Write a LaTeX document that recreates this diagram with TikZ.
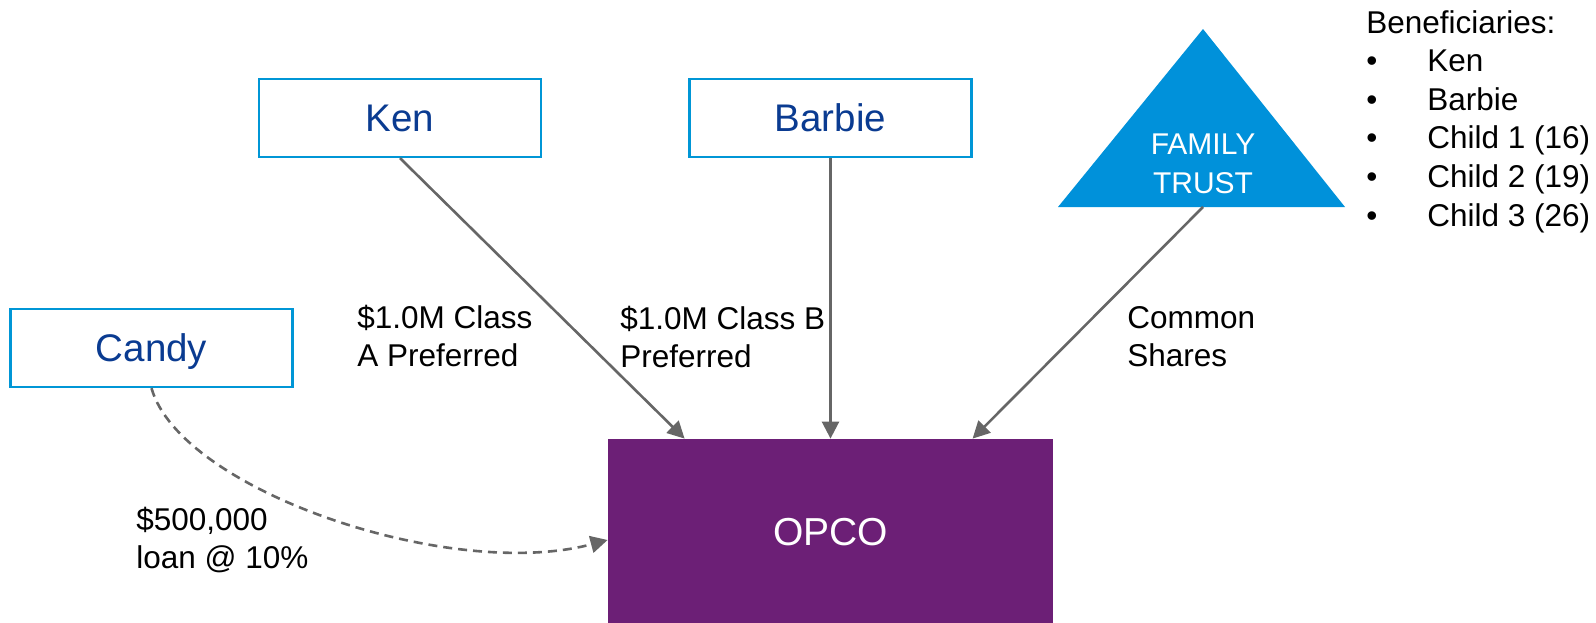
\documentclass[tikz,border=0pt]{standalone}
\usepackage{fontspec}
\setmainfont{Liberation Sans}
\usetikzlibrary{arrows.meta,calc}
\definecolor{boxblue}{HTML}{0096D6}
\definecolor{nameblue}{HTML}{0A3B91}
\definecolor{trustblue}{HTML}{0091DA}
\definecolor{opcopurple}{HTML}{6C1F76}
\definecolor{linkgray}{HTML}{666666}
\begin{document}
\begin{tikzpicture}[x=0.5pt,y=-0.5pt,
  personbox/.style={draw=boxblue,line width=1.1pt,fill=white,
    minimum width=141pt,minimum height=39pt,inner sep=0pt,text=nameblue,
    font=\fontsize{19.25}{23}\selectfont,text height=13.8pt,text depth=0pt},
  opcobox/.style={fill=opcopurple,minimum width=222.5pt,minimum height=92pt,
    inner sep=0pt,text=white,font=\fontsize{19.5}{23}\selectfont,
    text height=14pt,text depth=0pt},
  labeltext/.style={anchor=base west,inner sep=0pt,
    font=\fontsize{15.75}{19}\selectfont},
  link/.style={draw=linkgray,line width=1.3pt,
    -{Triangle[length=8.5pt,width=8.5pt]}},
  loan/.style={draw=linkgray,line width=1.3pt,dash pattern=on 4.5pt off 3pt,
    -{Triangle[length=8.5pt,width=8.5pt]}}
]
\useasboundingbox (0,0) rectangle (1596,622);

% owners
\node[personbox] (ken) at (400,118) {Ken};
\node[personbox] (barbie) at (830.5,118) {Barbie};
\node[personbox] (candy) at (151.5,348) {Candy};

% family trust
\fill[trustblue] (1058,207) -- (1203,29) -- (1345,207) -- cycle;
\node[anchor=base,inner sep=0pt,text=white,font=\fontsize{15}{19.5}\selectfont]
  (trust) at (1203,154) {\begin{tabular}[t]{@{}c@{}}FAMILY\\TRUST\end{tabular}};
\coordinate (trustfoot) at (1203,207);

% operating company
\node[opcobox] (opco) at (830.5,531) {OPCO};

% share and loan flows
\draw[link] (ken.south) -- ([xshift=38.5pt]opco.north west);
\draw[link] (barbie.south) -- (opco.north);
\draw[link] (trustfoot) -- ([xshift=182.5pt]opco.north west);
\draw[loan] (candy.south) .. controls (180,490) and (450,582) .. ([yshift=-4.5pt]opco.west);

% flow labels
\node[labeltext] (lblA) at (357,328)
  {\begin{tabular}[t]{@{}l@{}}\$1.0M Class\\A Preferred\end{tabular}};
\node[labeltext] (lblB) at (620,329)
  {\begin{tabular}[t]{@{}l@{}}\$1.0M Class B\\Preferred\end{tabular}};
\node[labeltext] (lblC) at (1127,328)
  {\begin{tabular}[t]{@{}l@{}}Common\\Shares\end{tabular}};
\node[labeltext] (lblL) at (136,530)
  {\begin{tabular}[t]{@{}l@{}}\$500,000\\loan @ 10\%\end{tabular}};

% beneficiaries of the trust
\node[anchor=base west,inner sep=0pt,font=\fontsize{15.75}{19.3}\selectfont]
  (benef) at (1366,33)
  {\begin{tabular}[t]{@{}p{30.5pt}@{}l@{}}
   \multicolumn{2}{@{}l@{}}{Beneficiaries:}\\
   \textbullet & Ken\\
   \textbullet & Barbie\\
   \textbullet & Child 1 (16)\\
   \textbullet & Child 2 (19)\\
   \textbullet & Child 3 (26)
   \end{tabular}};
\end{tikzpicture}
\end{document}
